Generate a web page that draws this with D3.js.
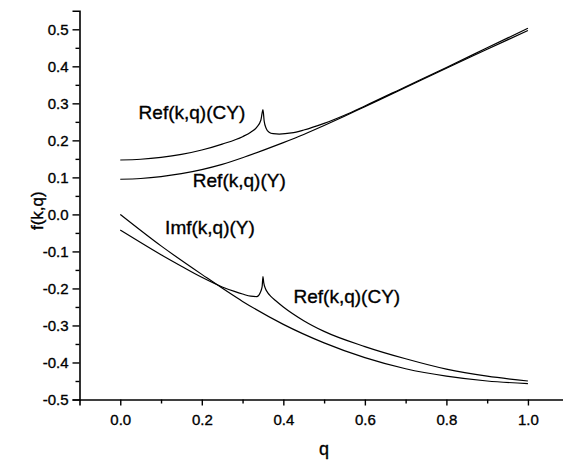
<!DOCTYPE html>
<html>
<head>
<meta charset="utf-8">
<script src="https://cdn.jsdelivr.net/npm/d3@7"></script>
<style>
  body { margin: 0; background: #fff; }
  svg { display: block; font-family: "Liberation Sans", Arial, sans-serif; }
  text { stroke: #000; stroke-width: 0.35px; }
</style>
</head>
<body>
<svg width="563" height="462"></svg>
<script>
// x ticks / y ticks
var xMajor = [0.0, 0.2, 0.4, 0.6, 0.8, 1.0],
    xMinor = [0.1, 0.3, 0.5, 0.7, 0.9],
    yMajor = [-0.5, -0.4, -0.3, -0.2, -0.1, 0.0, 0.1, 0.2, 0.3, 0.4, 0.5],
    yMinor = [-0.45, -0.35, -0.25, -0.15, -0.05, 0.05, 0.15, 0.25, 0.35, 0.45];

// Ref f(k,q) (Y), upper branch
var refYq = [0, 0.05, 0.1, 0.15, 0.2, 0.25, 0.3, 0.35, 0.4, 0.45, 0.5, 0.55, 0.6, 0.7, 0.8, 0.9, 1.0],
    refYv = [0.095, 0.097, 0.102, 0.110, 0.121, 0.135, 0.153, 0.173, 0.194, 0.216, 0.240, 0.265, 0.291, 0.343, 0.395, 0.446, 0.497];

// Ref f(k,q) (CY), upper branch with cusp
var refCYq = [0, 0.05, 0.1, 0.15, 0.2, 0.25, 0.3, 0.32, 0.335, 0.345, 0.35, 0.353, 0.358, 0.365, 0.375, 0.39, 0.42, 0.45, 0.5, 0.55, 0.6, 0.7, 0.8, 0.9, 1.0],
    refCYv = [0.147, 0.149, 0.154, 0.162, 0.174, 0.19, 0.21, 0.222, 0.236, 0.255, 0.283, 0.252, 0.232, 0.222, 0.218, 0.217, 0.220, 0.228, 0.246, 0.268, 0.293, 0.345, 0.397, 0.450, 0.503];

// Im f(k,q) (Y)
var imYq = [0, 0.1, 0.2, 0.3, 0.4, 0.5, 0.6, 0.7, 0.8, 0.9, 1.0],
    imYv = [0, -0.085, -0.162, -0.235, -0.297, -0.347, -0.387, -0.417, -0.437, -0.45, -0.457];

// Ref f(k,q) (CY), lower branch with cusp
var refCY2q = [0, 0.05, 0.1, 0.15, 0.2, 0.25, 0.28, 0.3, 0.32, 0.335, 0.343, 0.348, 0.35, 0.352, 0.356, 0.362, 0.37, 0.38, 0.4, 0.45, 0.5, 0.6, 0.7, 0.8, 0.9, 1.0],
    refCY2v = [-0.042, -0.076, -0.109, -0.140, -0.170, -0.196, -0.208, -0.215, -0.221, -0.222, -0.212, -0.195, -0.168, -0.185, -0.200, -0.212, -0.222, -0.232, -0.25, -0.287, -0.316, -0.357, -0.39, -0.418, -0.437, -0.45];

var labels = [
  {text: "Ref(k,q)(CY)", q: 0.045, v: 0.257},
  {text: "Ref(k,q)(Y)", q: 0.178, v: 0.074},
  {text: "Imf(k,q)(Y)", q: 0.11, v: -0.053},
  {text: "Ref(k,q)(CY)", q: 0.425, v: -0.24}
];

var svg = d3.select("svg");

var x = d3.scaleLinear().domain([-0.1, 1.1]).range([79.5, 568.7]),
    y = d3.scaleLinear().domain([-0.5, 0.55]).range([399.5, 10.8]);

function fmt(d) { return d3.format(".1f")(d).replace("\u2212", "-"); }

function zip(qs, vs) { return qs.map(function(q, i) { return [q, vs[i]]; }); }

// axes
var gx = svg.append("g").attr("transform", "translate(0," + y(-0.5) + ")");
gx.call(d3.axisBottom(x).tickValues(xMajor).tickSize(6).tickPadding(9).tickFormat(fmt));
gx.append("g").call(d3.axisBottom(x).tickValues(xMinor).tickSize(4).tickFormat(""))
  .select(".domain").remove();

var gy = svg.append("g").attr("transform", "translate(" + x(-0.1) + ",0)");
gy.call(d3.axisLeft(y).tickValues(yMajor).tickSize(7).tickPadding(4).tickFormat(fmt));
gy.append("g").call(d3.axisLeft(y).tickValues(yMinor).tickSize(4).tickFormat(""))
  .select(".domain").remove();

svg.selectAll(".domain").attr("stroke", "#000").attr("stroke-width", 1.6);
svg.selectAll(".tick line").attr("stroke", "#000").attr("stroke-width", 1.4);
svg.selectAll(".tick text").attr("fill", "#000").style("font-size", "15px")
  .style("font-family", "'Liberation Sans', Arial, sans-serif");

// curves
var line = d3.line()
    .x(function(d) { return x(d[0]); })
    .y(function(d) { return y(d[1]); })
    .curve(d3.curveMonotoneX);

var series = [zip(refYq, refYv), zip(refCYq, refCYv), zip(imYq, imYv), zip(refCY2q, refCY2v)];
svg.append("g").selectAll("path").data(series).enter().append("path")
    .attr("d", line)
    .attr("fill", "none")
    .attr("stroke", "#000")
    .attr("stroke-width", 1.2);

// curve labels
svg.append("g").selectAll("text").data(labels).enter().append("text")
    .attr("x", function(d) { return x(d.q); })
    .attr("y", function(d) { return y(d.v); })
    .style("font-size", "19px")
    .text(function(d) { return d.text; });

// axis titles
svg.append("text")
    .attr("x", x(0.5)).attr("y", 455)
    .attr("text-anchor", "middle")
    .style("font-size", "18px")
    .text("q");

svg.append("text")
    .attr("transform", "translate(43," + y(0.01) + ") rotate(-90)")
    .attr("text-anchor", "middle")
    .style("font-size", "17px")
    .text("f(k,q)");
</script>
</body>
</html>
